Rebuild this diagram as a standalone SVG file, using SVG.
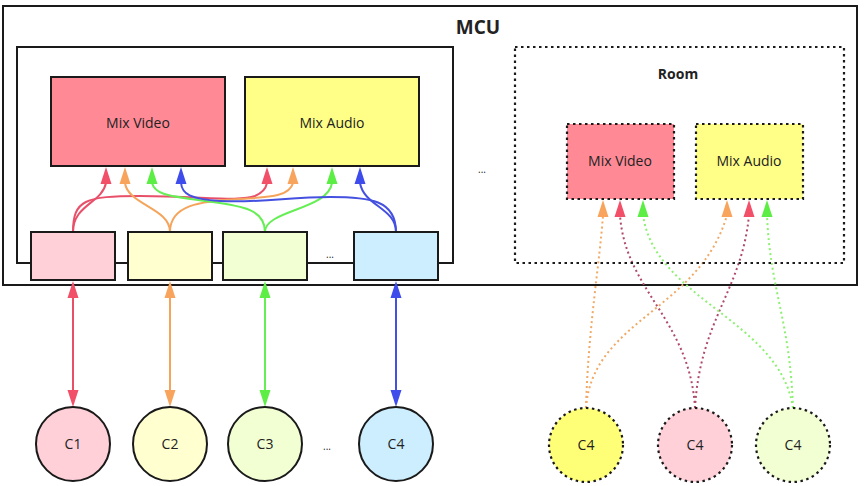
<svg xmlns="http://www.w3.org/2000/svg" width="864" height="486" viewBox="0 0 864 486">
<style>
text{font-family:"Open Sans","Noto Sans","Liberation Sans",sans-serif;fill:#222;text-anchor:middle}
.lbl{font-size:14px}
.box{stroke:#1a1a1a;stroke-width:2}
.dbox{stroke:#1a1a1a;stroke-width:2.2;stroke-dasharray:2.5,3.5}
.c{fill:none;stroke-width:2}
.d{fill:none;stroke-width:2;stroke-dasharray:2,3}
.red{stroke:#E8506A}.ora{stroke:#F5A45C}.grn{stroke:#66EE55}.blu{stroke:#4450E0}
.dred{stroke:#B04A6A}.dora{stroke:#F0AA66}.dgrn{stroke:#8CF070}
.fr{fill:#F25068}.fo{fill:#F8A45C}.fg{fill:#5CEE44}.fb{fill:#3F4CEC}
</style>
<defs>
<path id="ah" d="M0,0 L-5.5,17 L5.5,17 Z"/>
<path id="ahd" d="M0,0 L-5.5,17 L5.5,17 Z" transform="rotate(180)"/>
</defs>
<rect x="0" y="0" width="864" height="486" fill="#fff"/>
<g id="mcu">
<rect x="3" y="6" width="854" height="279" fill="none" class="box"/>
<text x="478" y="34" style="font-size:19px;font-weight:bold">MCU</text>
</g>
<g id="inner">
<rect x="17" y="47" width="436" height="216" fill="none" class="box"/>
<text x="330" y="258" style="font-size:10px">...</text>
</g>
<g id="mixvideo">
<rect x="51" y="77" width="174" height="89" fill="#FF8A96" class="box"/>
<text x="138" y="128" class="lbl">Mix Video</text>
</g>
<g id="mixaudio">
<rect x="245" y="77" width="174" height="89" fill="#FFFF88" class="box"/>
<text x="332" y="128" class="lbl">Mix Audio</text>
</g>
<g id="connectors">
<path class="c red" d="M73,232 C73,205 102,203 106,183"/>
<path class="c red" d="M73,232 C73,200 85,196 140,196 C200,196 240,202 255,196 C262,193 266,188 267,183"/>
<path class="c ora" d="M170,232 C170,208 128,205 125,183"/>
<path class="c ora" d="M170,232 C170,205 200,201 240,199 C275,197 290,195 293,183"/>
<path class="c grn" d="M265,232 C265,208 240,206 205,201 C170,196 155,195 152,183"/>
<path class="c grn" d="M265,232 C265,210 328,210 332,183"/>
<path class="c blu" d="M396,232 C396,208 364,206 360,183"/>
<path class="c blu" d="M396,232 C396,200 370,197 330,197 C290,197 260,203 220,201 C190,199 182,194 181,183"/>
<use href="#ah" x="106" y="167" class="fr"/>
<use href="#ah" x="125" y="167" class="fo"/>
<use href="#ah" x="152" y="167" class="fg"/>
<use href="#ah" x="181" y="167" class="fb"/>
<use href="#ah" x="267" y="167" class="fr"/>
<use href="#ah" x="293" y="167" class="fo"/>
<use href="#ah" x="332" y="167" class="fg"/>
<use href="#ah" x="360" y="167" class="fb"/>
<line class="c red" x1="73" y1="295" x2="73" y2="393"/>
<line class="c ora" x1="170" y1="295" x2="170" y2="393"/>
<line class="c grn" x1="265" y1="295" x2="265" y2="393"/>
<line class="c blu" x1="396" y1="295" x2="396" y2="393"/>
<use href="#ah" x="73" y="281" class="fr"/>
<use href="#ah" x="170" y="281" class="fo"/>
<use href="#ah" x="265" y="281" class="fg"/>
<use href="#ah" x="396" y="281" class="fb"/>
<use href="#ahd" x="73" y="407" class="fr"/>
<use href="#ahd" x="170" y="407" class="fo"/>
<use href="#ahd" x="265" y="407" class="fg"/>
<use href="#ahd" x="396" y="407" class="fb"/>
<path class="d dora" d="M586,408 C588,330 600,260 603,215"/>
<path class="d dora" d="M586,408 C592,320 700,310 727,215"/>
<path class="d dred" d="M695,408 C690,320 625,290 620,215"/>
<path class="d dred" d="M695,408 C700,320 742,290 749,215"/>
<path class="d dgrn" d="M793,408 C780,320 655,300 643,215"/>
<path class="d dgrn" d="M793,408 C790,320 770,290 767,215"/>
<use href="#ah" x="603" y="200" class="fo"/>
<use href="#ah" x="620" y="200" class="fr"/>
<use href="#ah" x="643" y="200" class="fg"/>
<use href="#ah" x="727" y="200" class="fo"/>
<use href="#ah" x="749" y="200" class="fr"/>
<use href="#ah" x="767" y="200" class="fg"/>
</g>
<g id="port1"><rect x="31" y="232" width="84" height="48" fill="#FFD0D8" class="box"/></g>
<g id="port2"><rect x="128" y="232" width="84" height="48" fill="#FFFFD0" class="box"/></g>
<g id="port3"><rect x="223" y="232" width="84" height="48" fill="#F2FFD2" class="box"/></g>
<g id="port4"><rect x="354" y="232" width="84" height="48" fill="#CCEEFF" class="box"/></g>
<g id="c1"><circle cx="73" cy="444" r="37" fill="#FFD0D8" class="box"/><text x="73" y="449" class="lbl">C1</text></g>
<g id="c2"><circle cx="170" cy="444" r="37" fill="#FFFFD0" class="box"/><text x="170" y="449" class="lbl">C2</text></g>
<g id="c3"><circle cx="265" cy="444" r="37" fill="#F2FFD2" class="box"/><text x="265" y="449" class="lbl">C3</text></g>
<text x="327" y="450" style="font-size:10px">...</text>
<g id="c4"><circle cx="396" cy="444" r="37" fill="#CCEEFF" class="box"/><text x="396" y="449" class="lbl">C4</text></g>
<text x="482" y="173" style="font-size:10px">...</text>
<g id="room">
<rect x="515" y="47" width="329" height="216" fill="none" class="dbox"/>
<text x="678" y="79" style="font-size:14px;font-weight:bold">Room</text>
</g>
<g id="room-mixvideo">
<rect x="567" y="124" width="107" height="75" fill="#FF8A96" class="dbox"/>
<text x="620" y="166" class="lbl">Mix Video</text>
</g>
<g id="room-mixaudio">
<rect x="696" y="124" width="107" height="75" fill="#FFFF88" class="dbox"/>
<text x="749" y="166" class="lbl">Mix Audio</text>
</g>
<g id="rc1"><circle cx="586" cy="445" r="37" fill="#FFFF77" class="dbox"/><text x="586" y="450" class="lbl">C4</text></g>
<g id="rc2"><circle cx="695" cy="445" r="37" fill="#FFD0D8" class="dbox"/><text x="695" y="450" class="lbl">C4</text></g>
<g id="rc3"><circle cx="793" cy="445" r="37" fill="#F2FFD2" class="dbox"/><text x="793" y="450" class="lbl">C4</text></g>
</svg>
